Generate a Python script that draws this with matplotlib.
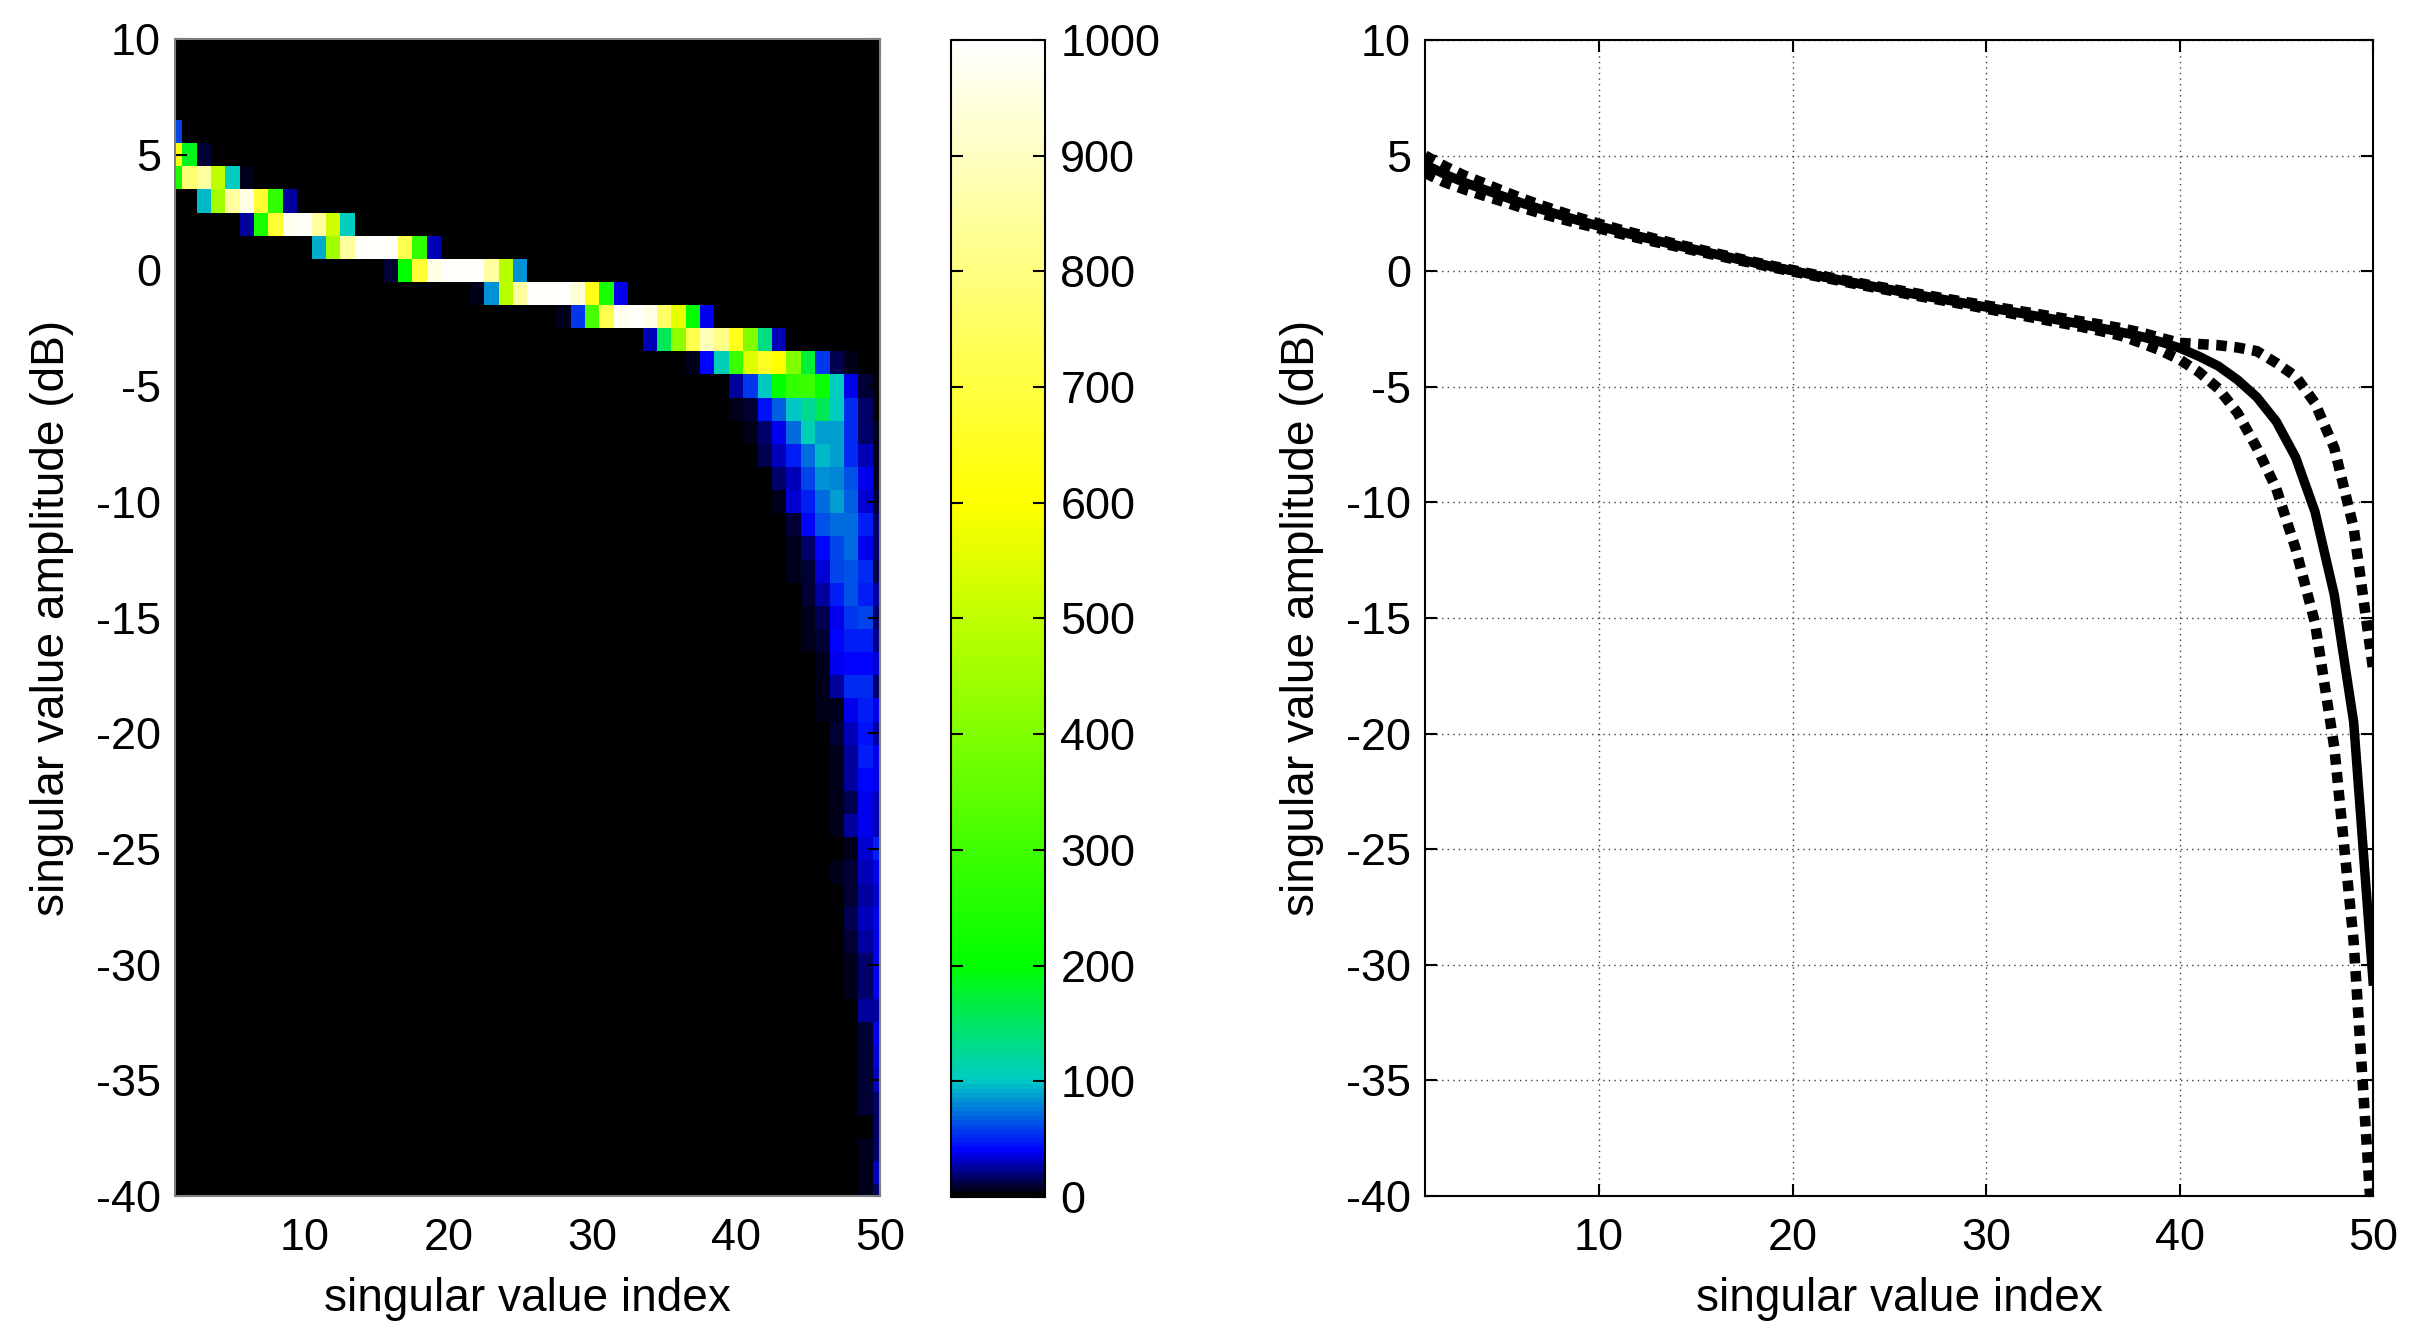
# coding: utf-8
import matplotlib
matplotlib.use('Agg')
import matplotlib.pyplot as plt
import numpy as np
from matplotlib.colors import LinearSegmentedColormap

plt.rcParams['font.family'] = ['Liberation Sans', 'DejaVu Sans']

# heatmap rows: dB level of each row, first non zero column, counts from there on
row_db = [6, 5, 4, 3, 2, 1, 0, -1, -2, -3, -4, -5, -6, -7, -8, -9, -10, -11, -12, -13, -14, -15,
          -16, -17, -18, -19, -20, -21, -22, -23, -24, -25, -26, -27, -28, -29, -30, -31, -32,
          -33, -34, -35, -36, -37, -38, -39, -40]
row_start = [1, 1, 1, 3, 6, 11, 16, 22, 28, 34, 37, 40, 40, 41, 42, 43, 43, 44, 44, 44, 45, 45,
             45, 46, 46, 46, 47, 47, 47, 47, 47, 48, 47, 48, 48, 48, 48, 48, 49,
             49, 49, 49, 49, 50, 49, 49, 49]
row_counts = [
    [59],
    [620, 185, 9],
    [240, 780, 850, 500, 103, 4],
    [95, 450, 850, 960, 680, 280, 24],
    [24, 240, 680, 970, 990, 850, 530, 103],
    [92, 450, 850, 990, 995, 990, 720, 280, 28],
    [9, 200, 680, 960, 995, 995, 995, 850, 490, 83],
    [6, 83, 490, 850, 995, 995, 995, 930, 640, 240, 36],
    [5, 56, 310, 720, 970, 995, 960, 760, 560, 200, 38],
    [30, 160, 420, 720, 890, 810, 640, 400, 135, 30],
    [5, 41, 108, 290, 550, 660, 600, 400, 175, 56, 15, 5],
    [25, 56, 98, 210, 280, 290, 220, 103, 36, 9],
    [6, 10, 44, 68, 98, 125, 160, 103, 53, 19],
    [5, 19, 38, 74, 106, 89, 89, 53, 19, 6],
    [15, 31, 50, 74, 95, 89, 53, 28, 6],
    [19, 30, 59, 83, 80, 65, 38, 6],
    [5, 35, 50, 71, 88, 68, 33, 10],
    [9, 41, 65, 74, 74, 50, 16],
    [6, 19, 41, 62, 71, 38, 19],
    [5, 9, 34, 59, 65, 53, 15],
    [9, 25, 47, 65, 47, 25],
    [7, 15, 38, 56, 62, 17],
    [5, 10, 41, 50, 47, 22],
    [7, 38, 41, 41, 35],
    [4, 25, 53, 53, 19],
    [4, 7, 38, 50, 38],
    [10, 30, 44, 27],
    [7, 24, 50, 38],
    [7, 25, 41, 38],
    [4, 12, 38, 28],
    [4, 25, 38, 30],
    [7, 35, 47],
    [4, 9, 31, 38],
    [9, 24, 32],
    [13, 30, 38],
    [9, 24, 38],
    [4, 18, 36],
    [4, 18, 38],
    [24, 25],
    [9, 38],
    [9, 32],
    [9, 30],
    [9, 17],
    [17],
    [6, 19],
    [6, 30],
    [6, 19],
]

# curves on the right
index = list(range(1, 51))
mean_db = [4.62, 4.2, 3.85, 3.55, 3.25, 2.95, 2.68, 2.42, 2.18, 1.95,
           1.73, 1.52, 1.32, 1.12, 0.93, 0.74, 0.55, 0.37, 0.19, 0.02,
           -0.15, -0.31, -0.47, -0.63, -0.79, -0.95, -1.1, -1.25, -1.4, -1.55,
           -1.7, -1.85, -2.0, -2.15, -2.3, -2.47, -2.64, -2.82, -3.05, -3.32,
           -3.68, -4.1, -4.7, -5.45, -6.5, -8.05, -10.4, -14.0, -19.5, -30.7]
upper_db = [5.0, 4.55, 4.15, 3.82, 3.48, 3.15, 2.85, 2.57, 2.3, 2.05,
            1.82, 1.6, 1.38, 1.17, 0.98, 0.78, 0.59, 0.4, 0.22, 0.05,
            -0.12, -0.28, -0.44, -0.6, -0.75, -0.9, -1.05, -1.2, -1.34, -1.48,
            -1.62, -1.76, -1.9, -2.04, -2.18, -2.32, -2.47, -2.65, -2.88, -3.1,
            -3.15, -3.2, -3.3, -3.46, -3.97, -4.55, -5.7, -7.65, -11.1, -17.2]
lower_db = [4.25, 3.85, 3.55, 3.28, 3.02, 2.75, 2.5, 2.27, 2.05, 1.85,
            1.64, 1.44, 1.25, 1.07, 0.88, 0.7, 0.51, 0.34, 0.16, -0.01,
            -0.18, -0.34, -0.51, -0.67, -0.83, -1.0, -1.15, -1.3, -1.46, -1.62,
            -1.78, -1.94, -2.1, -2.26, -2.42, -2.6, -2.8, -3.1, -3.42, -3.82,
            -4.36, -5.07, -6.13, -7.65, -9.4, -12.0, -15.2, -20.6, -29.0, -42.0]

x_ticks = [10, 20, 30, 40, 50]
y_ticks = list(range(-40, 11, 5))
cbar_ticks = list(range(0, 1001, 100))

W = 2411.0
H = 1343.0
FONT = 32.4
LABEL_FONT = 33.1
TICK = 8.6


def box(left, top, right, bottom):
    return [left / W, (H - bottom) / H, (right - left) / W, (bottom - top) / H]


def style(ax, edge):
    for s in ax.spines.values():
        s.set_color(edge)
        s.set_linewidth(1.5)
    ax.set_xlim(1, 50)
    ax.set_ylim(-40, 10)
    ax.set_xticks(x_ticks)
    ax.set_xticklabels([str(t) for t in x_ticks])
    ax.set_yticks(y_ticks)
    ax.set_yticklabels([str(t) for t in y_ticks])
    ax.tick_params(direction='in', length=TICK, width=1.5, top=True, right=True,
                   labelsize=FONT)
    ax.tick_params(axis='x', pad=16)
    ax.tick_params(axis='y', pad=10)
    ax.set_xlabel('singular value index', fontsize=LABEL_FONT, labelpad=13)
    ax.set_ylabel('singular value amplitude (dB)', fontsize=LABEL_FONT, labelpad=16)


counts = np.zeros((51, 50))
for db, start, vals in zip(row_db, row_start, row_counts):
    for i, v in enumerate(vals):
        counts[10 - db, start - 1 + i] = v

cmap = LinearSegmentedColormap.from_list('hist', [
    (0.0, (0, 0, 0)),
    (0.038, (0, 0, 1)),
    (0.1, (0, 205 / 255, 195 / 255)),
    (0.2, (0, 1, 0)),
    (0.6, (1, 1, 0)),
    (1.0, (1, 1, 1)),
], N=256)

fig = plt.figure(figsize=(W / 100, H / 100), dpi=100)

ax1 = fig.add_axes(box(175, 39, 880, 1196))
im = ax1.imshow(counts, extent=[0.5, 50.5, -40.5, 10.5], origin='upper', aspect='auto',
                interpolation='nearest', cmap=cmap, vmin=0, vmax=1000)
style(ax1, '#808080')
ax1.tick_params(color='black')

cax = fig.add_axes(box(951, 40, 1045, 1197))
cb = fig.colorbar(im, cax=cax)
cb.set_ticks(cbar_ticks)
cb.set_ticklabels([str(t) for t in cbar_ticks])
cb.outline.set_linewidth(1.5)
cax.tick_params(direction='in', length=TICK, width=1.5, left=True, right=True,
                labelsize=FONT, pad=11)

ax2 = fig.add_axes(box(1425, 40, 2373, 1196))
ax2.grid(True, color='#404040', linewidth=1, linestyle=(0, (1, 3)))
ax2.set_axisbelow(True)
ax2.plot(index, upper_db, color='black', linewidth=7.6, linestyle=(0, (1.0, 0.72)),
         dash_capstyle='butt', dash_joinstyle='miter')
ax2.plot(index, lower_db, color='black', linewidth=7.6, linestyle=(0, (1.0, 0.72)),
         dash_capstyle='butt', dash_joinstyle='miter')
ax2.plot(index, mean_db, color='black', linewidth=6.8)
style(ax2, 'black')

fig.savefig('out.png', dpi=100)
